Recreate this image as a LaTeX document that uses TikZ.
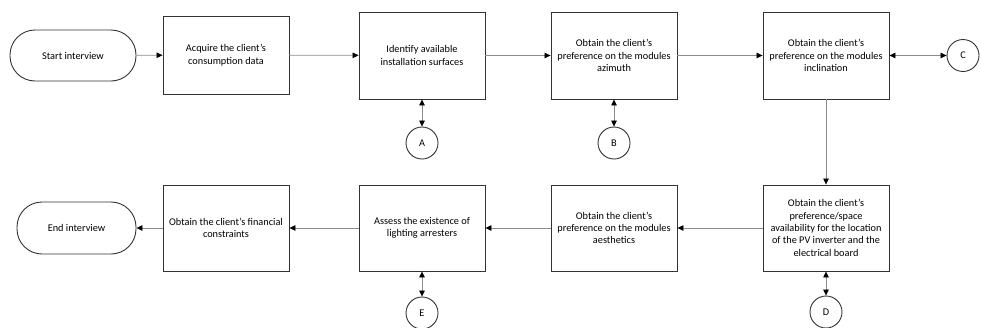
\documentclass[tikz,border=0pt]{standalone}
\usepackage{fontspec}
\setmainfont{Carlito}
\usetikzlibrary{arrows.meta}
\begin{document}
\begin{tikzpicture}[x=1pt,y=-1pt,
  txt/.style={font=\fontsize{10.3}{12.4}\selectfont, align=center},
  box/.style={txt, draw=black!80, line width=0.9pt, minimum width=126pt, inner sep=0pt},
  term/.style={txt, draw=black!80, line width=0.9pt, rounded corners=25pt, inner sep=0pt},
  conn/.style={circle, txt, draw=black!80, line width=0.9pt, minimum size=32pt, inner sep=0pt},
  arr/.style={draw=black!45, line width=0.7pt, -{Triangle[length=6pt,width=5.5pt,black]}},
  darr/.style={draw=black!45, line width=0.7pt, {Triangle[length=6pt,width=5.5pt,black]}-{Triangle[length=6pt,width=5.5pt,black]}}
]
\useasboundingbox (0,0) rectangle (981,327);
% top row
\node[term, minimum width=126pt, minimum height=51pt] (start) at (73,55.5) {Start interview};
\node[box, minimum height=78pt] (b1) at (226,55) {Acquire the client's\\consumption data};
\node[box, minimum height=87pt] (b2) at (422,55.5) {Identify available\\installation surfaces};
\node[box, minimum height=87pt] (b3) at (614,55.5) {Obtain the client's\\preference on the modules\\azimuth};
\node[box, minimum height=87pt] (b4) at (826,55.5) {Obtain the client's\\preference on the modules\\inclination};
\node[conn] (C) at (963,55.5) {C};
\node[conn] (A) at (422,143) {A};
\node[conn] (B) at (614,143) {B};
% bottom row
\node[box, minimum height=86pt] (b5) at (826,228) {Obtain the client's\\preference/space\\availability for the location\\of the PV inverter and the\\electrical board};
\node[conn] (D) at (826,312) {D};
\node[box, minimum height=86pt] (b6) at (614,228) {Obtain the client's\\preference on the modules\\aesthetics};
\node[box, minimum height=86pt] (b7) at (422,228) {Assess the existence of\\lighting arresters};
\node[conn] (E) at (422,313) {E};
\node[box, minimum height=86pt] (b8) at (226,228) {Obtain the client's financial\\constraints};
\node[term, minimum width=119pt, minimum height=52pt] (end) at (76.5,228) {End interview};
% connectors
\draw[arr] (start) -- (b1);
\draw[arr] (b1) -- (b2);
\draw[arr] (b2) -- (b3);
\draw[arr] (b3) -- (b4);
\draw[darr] (b4) -- (C);
\draw[darr] (b2) -- (A);
\draw[darr] (b3) -- (B);
\draw[arr] (b4) -- (b5);
\draw[darr] (b5) -- (D);
\draw[arr] (b5) -- (b6);
\draw[arr] (b6) -- (b7);
\draw[arr] (b7) -- (b8);
\draw[arr] (b8) -- (end);
\draw[darr] (b7) -- (E);
\end{tikzpicture}
\end{document}
